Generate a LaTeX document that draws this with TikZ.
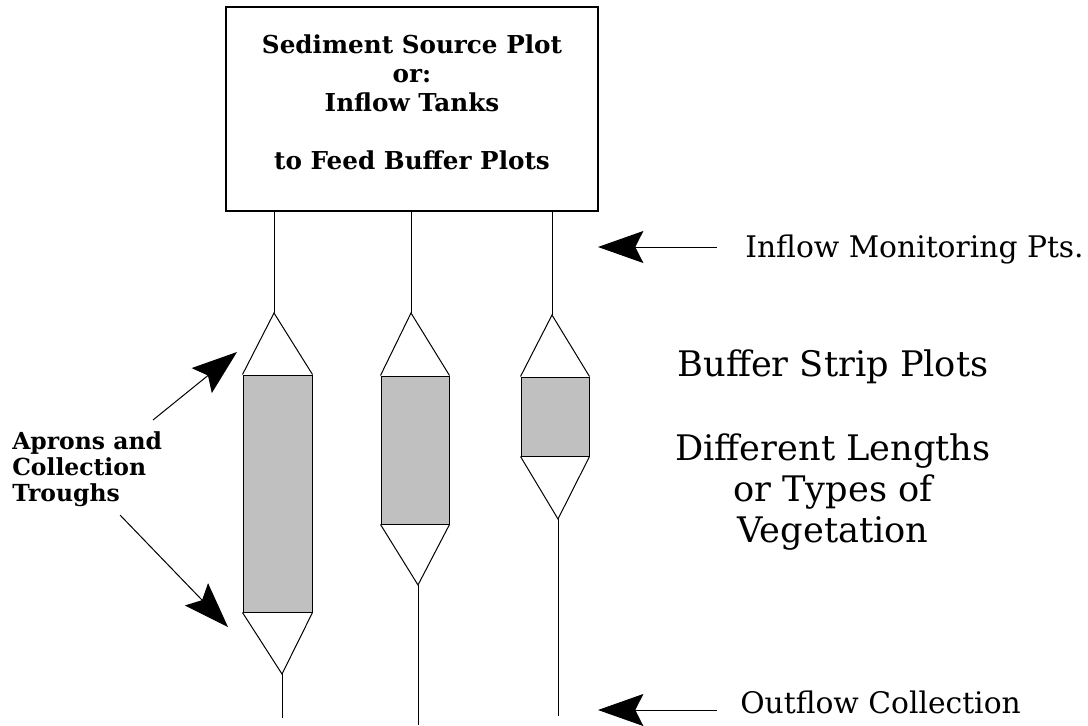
\documentclass[tikz,border=0pt]{standalone}
\usepackage{fontspec}
\setmainfont{DejaVu Serif}
\usetikzlibrary{arrows.meta,positioning,fit}
\definecolor{stripgray}{RGB}{192,192,192}
\tikzset{
  srcbox/.style={draw, line width=0.8pt, minimum width=279pt,
    minimum height=153pt, inner sep=0pt},
  boxtext/.style={font=\bfseries\fontsize{18.5}{21.75}\selectfont,
    align=center, inner sep=0pt},
  stripbox/.style={draw, fill=stripgray, line width=0.75pt, inner sep=0pt},
  thinline/.style={line width=0.75pt},
  bigarr/.style={-{Stealth[length=34pt, width=24pt, inset=6pt]},
    line width=0.75pt},
  sidelbl/.style={font=\fontsize{22.3}{26}\selectfont, inner sep=0pt,
    anchor=base west},
  apronlbl/.style={font=\bfseries\fontsize{17.6}{19.5}\selectfont,
    align=left, inner sep=0pt, anchor=north west},
  striplbl/.style={font=\fontsize{26.4}{31}\selectfont,
    align=center, inner sep=0pt, anchor=north},
}

\begin{document}
\begin{tikzpicture}[x=0.75pt, y=-0.75pt]
  \useasboundingbox (0,0) rectangle (1088,725);

  % Source box
  \node[srcbox] (src) at (412,109) {};
  \node[boxtext, anchor=north] (srctxt) at (412,34) {
    Sediment Source Plot\\
    or:\\
    Inflow Tanks\\[22pt]
    to Feed Buffer Plots
  };

  % Buffer strips
  \foreach \i/\tx/\ty/\xl/\xr/\yt/\yb/\bx/\by/\oy in {
      1/274/313/243/312/375/612/282/674/718,
      2/411/313/381/449/376/524/418/585/725,
      3/552/315/521/589/377/456/558/519/716} {
    \coordinate (top\i) at (\tx,\ty);
    \coordinate (bot\i) at (\bx,\by);
    \coordinate (out\i) at (\bx,\oy);
    \node[stripbox, fit={(\xl,\yt) (\xr,\yb)}] (strip\i) {};
    \draw[thinline] (strip\i.north west) -- (top\i) -- (strip\i.north east);
    \draw[thinline] (strip\i.south west) -- (bot\i) -- (strip\i.south east);
    \draw[thinline] (src.south -| top\i) -- (top\i);
    \draw[thinline] (bot\i) -- (out\i);
  }

  % Monitoring labels
  \node[sidelbl] (inlbl) at (745,257) {Inflow Monitoring Pts.};
  \node[sidelbl] (outlbl) at (740,713) {Outflow Collection};
  \coordinate (inpt) at (598,247);
  \coordinate (outpt) at (598,710);
  \draw[bigarr] ([xshift=-21pt]inlbl.west |- inpt) -- (inpt);
  \draw[bigarr] ([xshift=-17.25pt]outlbl.west |- outpt) -- (outpt);

  % Aprons
  \node[apronlbl] (apron) at (12,431) {Aprons and\\Collection\\Troughs};
  \coordinate (aptail1) at (153,420);
  \coordinate (aptip1) at (237,352);
  \coordinate (aptail2) at (120,515);
  \coordinate (aptip2) at (228,627);
  \draw[bigarr] (aptail1) -- (aptip1);
  \draw[bigarr] (aptail2) -- (aptip2);

  % Strip description
  \node[striplbl] (striptxt) at (833,349) {
    Buffer Strip Plots\\[32pt]
    Different Lengths\\
    or Types of\\
    Vegetation
  };
\end{tikzpicture}
\end{document}
